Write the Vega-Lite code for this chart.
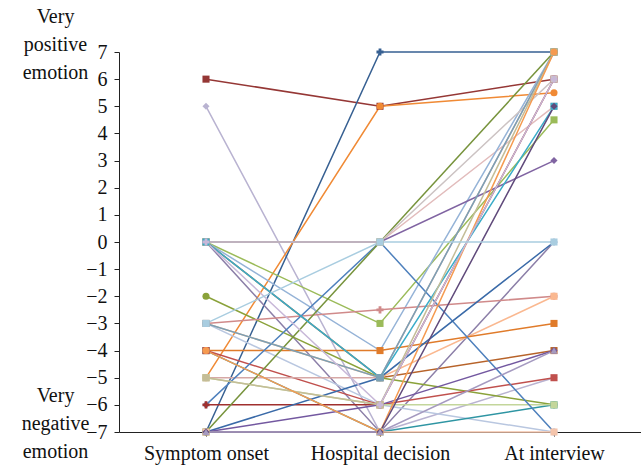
{
  "$schema": "https://vega.github.io/schema/vega-lite/v6.json",
  "width": 522,
  "height": 380,
  "autosize": {"type": "none"},
  "padding": {"left": 119, "top": 52, "right": 0, "bottom": 35},
  "config": {"view": {"stroke": null}, "font": "Liberation Serif"},
  "data": {"values": [
    {"id":"s1","t":"Symptom onset","v":6},{"id":"s1","t":"Hospital decision","v":5},{"id":"s1","t":"At interview","v":6},
    {"id":"s2","t":"Symptom onset","v":5},{"id":"s2","t":"Hospital decision","v":-7},{"id":"s2","t":"At interview","v":-5},
    {"id":"s3","t":"Symptom onset","v":-7},{"id":"s3","t":"Hospital decision","v":7},{"id":"s3","t":"At interview","v":7},
    {"id":"s4","t":"Symptom onset","v":-5},{"id":"s4","t":"Hospital decision","v":5},{"id":"s4","t":"At interview","v":5.5},
    {"id":"s5","t":"Symptom onset","v":0},{"id":"s5","t":"Hospital decision","v":0},{"id":"s5","t":"At interview","v":5},
    {"id":"s7","t":"Symptom onset","v":0},{"id":"s7","t":"Hospital decision","v":-3},{"id":"s7","t":"At interview","v":4.5},
    {"id":"s8","t":"Symptom onset","v":0},{"id":"s8","t":"Hospital decision","v":-4},{"id":"s8","t":"At interview","v":7},
    {"id":"s9","t":"Symptom onset","v":0},{"id":"s9","t":"Hospital decision","v":-5},{"id":"s9","t":"At interview","v":-4},
    {"id":"s10","t":"Symptom onset","v":0},{"id":"s10","t":"Hospital decision","v":-7},{"id":"s10","t":"At interview","v":0},
    {"id":"s11","t":"Symptom onset","v":-2},{"id":"s11","t":"Hospital decision","v":-5},{"id":"s11","t":"At interview","v":-6},
    {"id":"s12","t":"Symptom onset","v":-3},{"id":"s12","t":"Hospital decision","v":-2.5},{"id":"s12","t":"At interview","v":-2},
    {"id":"s13","t":"Symptom onset","v":-3},{"id":"s13","t":"Hospital decision","v":-5},{"id":"s13","t":"At interview","v":-2},
    {"id":"s14","t":"Symptom onset","v":-3},{"id":"s14","t":"Hospital decision","v":-6},{"id":"s14","t":"At interview","v":-7},
    {"id":"s15","t":"Symptom onset","v":-4},{"id":"s15","t":"Hospital decision","v":-4},{"id":"s15","t":"At interview","v":-3},
    {"id":"s16","t":"Symptom onset","v":-4},{"id":"s16","t":"Hospital decision","v":-7},{"id":"s16","t":"At interview","v":-6},
    {"id":"s17","t":"Symptom onset","v":-4},{"id":"s17","t":"Hospital decision","v":-6},{"id":"s17","t":"At interview","v":-5},
    {"id":"s18","t":"Symptom onset","v":-5},{"id":"s18","t":"Hospital decision","v":-5},{"id":"s18","t":"At interview","v":7},
    {"id":"s19","t":"Symptom onset","v":-5},{"id":"s19","t":"Hospital decision","v":-6},{"id":"s19","t":"At interview","v":-6},
    {"id":"s20","t":"Symptom onset","v":-6},{"id":"s20","t":"Hospital decision","v":0},{"id":"s20","t":"At interview","v":-7},
    {"id":"s21","t":"Symptom onset","v":-6},{"id":"s21","t":"Hospital decision","v":-6},{"id":"s21","t":"At interview","v":6},
    {"id":"s22","t":"Symptom onset","v":-7},{"id":"s22","t":"Hospital decision","v":0},{"id":"s22","t":"At interview","v":7},
    {"id":"s23","t":"Symptom onset","v":-7},{"id":"s23","t":"Hospital decision","v":-5},{"id":"s23","t":"At interview","v":0},
    {"id":"s24","t":"Symptom onset","v":-7},{"id":"s24","t":"Hospital decision","v":-6},{"id":"s24","t":"At interview","v":-4},
    {"id":"s25","t":"Symptom onset","v":-7},{"id":"s25","t":"Hospital decision","v":-7},{"id":"s25","t":"At interview","v":-7},
    {"id":"s26","t":"Symptom onset","v":0},{"id":"s26","t":"Hospital decision","v":0},{"id":"s26","t":"At interview","v":3},
    {"id":"s27","t":"Symptom onset","v":0},{"id":"s27","t":"Hospital decision","v":0},{"id":"s27","t":"At interview","v":6},
    {"id":"s28","t":"Symptom onset","v":0},{"id":"s28","t":"Hospital decision","v":-5},{"id":"s28","t":"At interview","v":5},
    {"id":"s29","t":"Symptom onset","v":-3},{"id":"s29","t":"Hospital decision","v":-5},{"id":"s29","t":"At interview","v":7},
    {"id":"s30","t":"Symptom onset","v":-5},{"id":"s30","t":"Hospital decision","v":-6},{"id":"s30","t":"At interview","v":7},
    {"id":"s31","t":"Symptom onset","v":-4},{"id":"s31","t":"Hospital decision","v":-7},{"id":"s31","t":"At interview","v":7},
    {"id":"s32","t":"Symptom onset","v":-7},{"id":"s32","t":"Hospital decision","v":-7},{"id":"s32","t":"At interview","v":5},
    {"id":"s33","t":"Symptom onset","v":0},{"id":"s33","t":"Hospital decision","v":-6},{"id":"s33","t":"At interview","v":6},
    {"id":"s34","t":"Symptom onset","v":-7},{"id":"s34","t":"Hospital decision","v":-7},{"id":"s34","t":"At interview","v":-4},
    {"id":"s6","t":"Symptom onset","v":-3},{"id":"s6","t":"Hospital decision","v":0},{"id":"s6","t":"At interview","v":0}
  ]},
  "encoding": {
    "x": {
      "field": "t", "type": "nominal",
      "sort": ["Symptom onset", "Hospital decision", "At interview"],
      "scale": {"paddingInner": 0, "paddingOuter": 0},
      "axis": {
        "title": null, "labelAngle": 0, "labelFontSize": 20, "labelColor": "#111",
        "domainColor": "#222", "tickColor": "#222", "tickSize": 4, "labelPadding": 7,
        "bandPosition": 0
      }
    },
    "color": {
      "field": "id", "type": "nominal", "legend": null,
      "scale": {
        "domain": ["s1","s2","s3","s4","s5","s6","s7","s8","s9","s10","s11","s12","s13","s14","s15","s16","s17","s18","s19","s20","s21","s22","s23","s24","s25","s26","s27","s28","s29","s30","s31","s32","s33","s34"],
        "range": ["#953735","#b9b3d1","#376092","#f08a35","#e2bcbc","#a9cde0","#9bbb59","#95b3d7","#b7632a","#8c7fa8","#8aa23a","#d08a8a","#fab890","#b9c7e0","#e07b2a","#2e95a3","#c0504d","#d6a8a6","#c3d69b","#4f81bd","#a0302e","#77933c","#3a6aa8","#7358a0","#f4c4ab","#8064a2","#ccc3c3","#3aacc8","#7ba0b5","#c4bd97","#f59a50","#604a7b","#c8b8d8","#a59ac0"]
      }
    },
    "detail": {"field": "id"}
  },
  "layer": [
    {
      "mark": {"type": "line", "strokeWidth": 1.5},
      "encoding": {
        "y": {
          "field": "v", "type": "quantitative",
          "scale": {"domain": [-7, 7], "nice": false, "zero": false},
          "axis": {
            "values": [-7,-6,-5,-4,-3,-2,-1,0,1,2,3,4,5,6,7],
            "grid": false, "labelFontSize": 20, "labelColor": "#111", "labelPadding": 7,
            "domainColor": "#222", "tickColor": "#222", "tickSize": 5,
            "title": ["Very", "positive", "emotion"], "titleAngle": 0, "titleAlign": "center",
            "titleBaseline": "alphabetic", "titleX": -64, "titleY": -30,
            "titleFontSize": 20, "titleFontWeight": "normal", "titleLineHeight": 28, "titleColor": "#111"
          }
        }
      }
    },
    {
      "mark": {"type": "point", "filled": true, "size": 50, "opacity": 1},
      "encoding": {
        "y": {
          "field": "v", "type": "quantitative",
          "axis": {
            "orient": "left", "labels": false, "ticks": false, "domain": false, "grid": false,
            "title": ["Very", "negative", "emotion"], "titleAngle": 0, "titleAlign": "center",
            "titleBaseline": "alphabetic", "titleX": -64, "titleY": 349,
            "titleFontSize": 20, "titleFontWeight": "normal", "titleLineHeight": 28, "titleColor": "#111"
          }
        },
        "shape": {
          "field": "id", "type": "nominal", "legend": null,
          "scale": {
            "domain": ["s1","s2","s3","s4","s5","s6","s7","s8","s9","s10","s11","s12","s13","s14","s15","s16","s17","s18","s19","s20","s21","s22","s23","s24","s25","s26","s27","s28","s29","s30","s31","s32","s33","s34"],
            "range": ["square","diamond","cross","circle","square","square","square","diamond","square","diamond","circle","cross","square","cross","square","square","square","square","square","diamond","cross","square","diamond","diamond","square","diamond","square","square","square","square","circle","diamond","cross","triangle-up"]
          }
        }
      }
    }
  ],
  "resolve": {"axis": {"y": "independent"}}
}
